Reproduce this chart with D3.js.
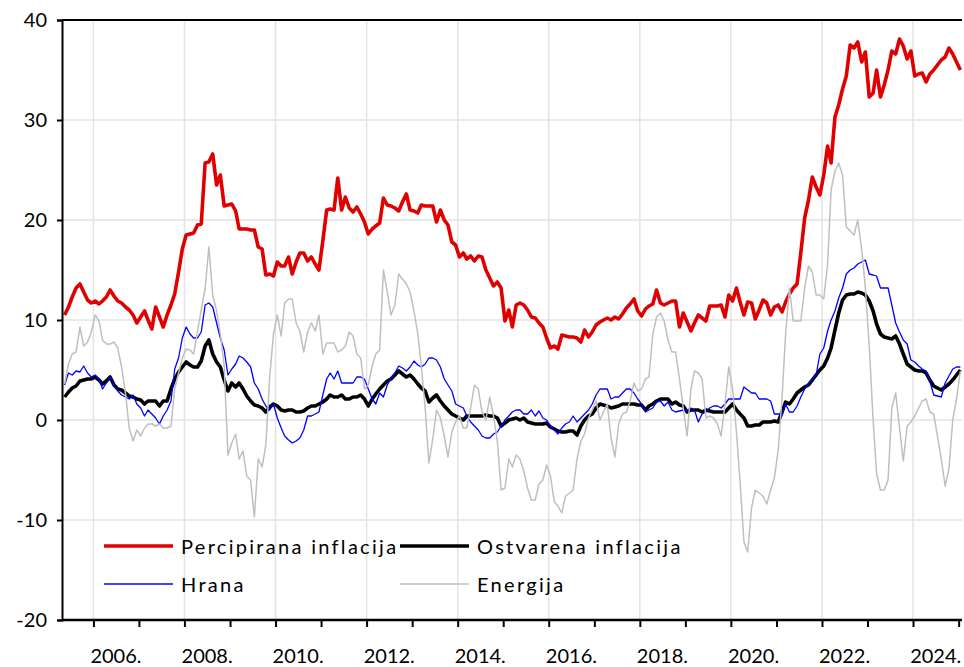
<!DOCTYPE html>
<html>
<head>
<meta charset="utf-8">
<script src="https://cdn.jsdelivr.net/npm/d3@7"></script>
<style>
  body { margin: 0; background: #fff; }
  svg { display: block; }
  text { font-family: Lato, "Open Sans", "DejaVu Sans", sans-serif; fill: #000; }
</style>
</head>
<body>
<svg id="chart" width="964" height="667"></svg>
<script>
// Monthly series, May 2005 – January 2025 (one value per month)
const firstYear = 2005;
const firstMonth = 5; // May

// Percipirana inflacija
const perceived = [
  10.5, 11.3, 12.3, 13.2, 13.6, 12.8, 12.0, 11.7,                   // 2005
  11.9, 11.6, 11.9, 12.3, 13.0, 12.4, 11.9, 11.7, 11.3, 11.0, 10.5, 9.7, // 2006
  10.3, 10.9, 10.0, 9.1, 11.3, 10.3, 9.3, 10.5, 11.5, 12.6, 14.8, 17.1,  // 2007
  18.5, 18.6, 18.7, 19.5, 19.6, 25.7, 25.8, 26.6, 23.5, 24.5, 21.4, 21.5, // 2008
  21.6, 20.9, 19.1, 19.1, 19.1, 19.0, 19.0, 17.3, 17.1, 14.5, 14.6, 14.4, // 2009
  15.8, 15.4, 15.4, 16.3, 14.6, 15.8, 16.7, 16.7, 15.9, 16.3, 15.6, 15.0, // 2010
  17.9, 21.0, 21.1, 21.0, 24.2, 21.0, 22.3, 21.2, 20.8, 21.3, 20.6, 19.8, // 2011
  18.6, 19.1, 19.4, 19.7, 22.2, 21.5, 21.4, 21.2, 20.9, 21.8, 22.6, 21.0, // 2012
  20.9, 20.7, 21.5, 21.4, 21.4, 21.4, 19.8, 21.0, 20.0, 19.5, 17.8, 17.5, // 2013
  16.3, 16.7, 16.1, 16.4, 15.9, 16.4, 16.3, 15.0, 14.2, 13.4, 13.8, 13.2, // 2014
  9.9, 11.0, 9.3, 11.5, 11.7, 11.5, 11.0, 10.3, 10.2, 9.7, 9.3, 8.2,     // 2015
  7.2, 7.4, 7.1, 8.5, 8.4, 8.3, 8.3, 8.2, 7.8, 9.0, 8.3, 8.8,            // 2016
  9.5, 9.8, 10.0, 10.2, 10.0, 10.3, 10.1, 10.6, 11.2, 11.6, 12.1, 10.9,  // 2017
  10.4, 11.1, 11.4, 11.6, 13.0, 11.7, 11.5, 11.7, 11.9, 11.9, 9.3, 10.7, // 2018
  9.8, 8.9, 9.7, 10.5, 10.2, 9.9, 11.4, 11.4, 11.4, 11.5, 10.3, 12.5,    // 2019
  11.9, 13.2, 11.8, 10.5, 11.8, 11.7, 10.1, 11.0, 12.0, 11.7, 10.5, 11.3, // 2020
  11.5, 10.8, 11.8, 12.6, 13.2, 13.6, 16.7, 20.2, 22.0, 24.3, 23.3, 22.5, // 2021
  24.5, 27.4, 25.7, 30.3, 31.5, 33.1, 34.4, 37.5, 37.2, 37.8, 35.8, 36.8, // 2022
  32.3, 32.7, 35.0, 32.3, 33.5, 35.0, 36.9, 36.6, 38.1, 37.4, 36.1, 36.9, // 2023
  34.4, 34.6, 34.7, 33.8, 34.6, 35.0, 35.5, 36.0, 36.3, 37.2, 36.6, 35.8, // 2024
  35.0                                                                  // 2025
];

// Ostvarena inflacija
const actual = [
  2.3, 2.8, 3.2, 3.4, 3.9, 4.0, 4.1, 4.1,                              // 2005
  4.3, 4.0, 3.6, 3.9, 4.3, 3.5, 3.1, 3.0, 2.7, 2.4, 2.3, 2.1,          // 2006
  2.0, 1.6, 1.9, 1.9, 1.9, 1.4, 1.9, 1.9, 3.1, 4.1, 4.8, 5.3,          // 2007
  5.8, 5.5, 5.3, 5.3, 5.9, 7.4, 8.0, 6.6, 5.8, 5.3, 4.0, 2.9,          // 2008
  3.7, 3.3, 3.7, 3.1, 2.4, 1.9, 1.5, 1.4, 1.2, 0.8, 1.3, 1.6,          // 2009
  1.4, 1.0, 0.9, 1.0, 1.0, 0.8, 0.8, 0.9, 1.2, 1.4, 1.4, 1.6,          // 2010
  1.8, 2.1, 2.5, 2.3, 2.3, 2.5, 2.1, 2.1, 2.3, 2.3, 2.5, 2.1,          // 2011
  1.4, 2.1, 2.6, 3.1, 3.5, 3.9, 4.1, 4.5, 4.9, 4.6, 4.3, 4.5,          // 2012
  4.1, 3.6, 3.2, 2.9, 1.8, 2.2, 2.5, 1.9, 1.4, 1.0, 0.6, 0.4,          // 2013
  0.2, 0.0, 0.4, 0.4, 0.4, 0.4, 0.4, 0.5, 0.4, 0.4, 0.2, -0.6,         // 2014
  -0.3, 0.0, 0.1, 0.2, 0.0, 0.2, -0.2, -0.3, -0.4, -0.4, -0.4, -0.3,   // 2015
  -0.7, -0.9, -1.1, -1.2, -1.2, -1.1, -1.1, -1.5, -0.6, 0.0, 0.4, 0.6, // 2016
  1.2, 1.6, 1.5, 1.4, 1.2, 1.3, 1.4, 1.6, 1.6, 1.6, 1.6, 1.5,          // 2017
  1.5, 1.0, 1.4, 1.6, 1.9, 2.1, 2.1, 2.1, 1.6, 1.8, 1.5, 1.4,          // 2018
  0.8, 1.0, 1.0, 1.0, 0.8, 1.0, 0.9, 0.8, 0.8, 0.8, 0.8, 1.2,          // 2019
  1.6, 1.0, 0.6, 0.2, -0.6, -0.6, -0.5, -0.5, -0.2, -0.2, -0.2, -0.1,  // 2020
  -0.2, 0.8, 1.8, 1.6, 2.1, 2.7, 3.0, 3.3, 3.5, 4.0, 4.5, 5.0,         // 2021
  5.4, 6.2, 7.2, 9.0, 10.7, 12.0, 12.5, 12.6, 12.6, 12.8, 12.7, 12.5,  // 2022
  11.9, 10.9, 9.6, 8.6, 8.3, 8.2, 8.1, 8.4, 7.6, 6.6, 5.6, 5.3,        // 2023
  5.0, 4.9, 4.9, 4.7, 4.0, 3.4, 3.2, 3.0, 3.3, 3.6, 4.0, 4.5,          // 2024
  5.0                                                                  // 2025
];

// Hrana
const food = [
  3.5, 4.7, 4.5, 4.9, 4.8, 5.4, 4.7, 4.3,                              // 2005
  4.5, 4.1, 3.1, 3.7, 4.3, 3.5, 2.9, 2.5, 2.3, 2.1, 2.5, 1.6,          // 2006
  1.2, 0.4, 1.0, 0.6, 0.2, -0.4, 0.4, 1.0, 1.9, 5.1, 6.2, 8.2,         // 2007
  9.3, 8.6, 8.2, 8.2, 8.8, 11.5, 11.7, 11.3, 9.7, 8.2, 7.0, 4.5,       // 2008
  5.1, 5.6, 6.4, 6.2, 5.8, 5.3, 3.7, 3.1, 2.1, 1.4, 1.0, 1.6,          // 2009
  0.2, -0.8, -1.6, -2.0, -2.3, -2.1, -1.8, -1.0, 0.4, 0.4, 0.6, 0.8,   // 2010
  2.5, 4.1, 4.7, 4.1, 4.9, 3.7, 3.7, 3.7, 3.7, 4.3, 4.3, 4.1,          // 2011
  3.1, 2.1, 1.6, 2.7, 2.3, 3.5, 4.2, 4.7, 5.4, 5.2, 4.9, 5.3,          // 2012
  5.9, 5.5, 5.3, 5.6, 6.2, 6.2, 6.0, 5.3, 4.1, 3.5, 2.9, 1.6,          // 2013
  1.4, 1.2, 0.4, -0.2, -0.6, -1.0, -1.6, -1.8, -1.8, -1.4, -1.2, -0.6, // 2014
  0.0, 0.4, 0.8, 1.0, 1.0, 0.6, 0.6, 1.0, 0.4, 0.9, 0.2, 0.0,          // 2015
  -0.6, -1.0, -1.4, -0.8, -0.4, -0.2, 0.4, -0.2, 0.2, 0.6, 1.0, 1.6,   // 2016
  2.5, 3.1, 3.1, 3.1, 2.1, 2.3, 2.3, 2.7, 3.1, 3.1, 2.7, 2.1,          // 2017
  1.6, 0.8, 1.0, 1.2, 1.8, 1.9, 1.4, 1.8, 1.0, 0.8, 0.9, 1.0,          // 2018
  1.0, 1.2, 1.0, -0.2, 0.6, 0.8, 1.2, 1.4, 1.4, 1.2, 1.6, 2.1,         // 2019
  2.1, 2.1, 2.1, 3.3, 3.0, 2.7, 2.7, 2.1, 2.1, 2.1, 1.9, 0.6,          // 2020
  0.6, 0.6, 1.6, 0.8, 0.8, 1.4, 2.3, 3.1, 3.7, 4.1, 4.5, 6.6,          // 2021
  7.2, 8.9, 10.0, 10.9, 12.2, 13.2, 14.6, 15.0, 15.2, 15.6, 15.8, 16.0, // 2022
  14.6, 14.5, 14.4, 13.2, 13.2, 13.2, 11.5, 9.7, 8.8, 8.0, 7.6, 6.0,   // 2023
  5.8, 5.4, 5.1, 4.9, 3.9, 2.5, 2.4, 2.3, 3.7, 4.4, 5.1, 5.3,          // 2024
  5.3                                                                  // 2025
];

// Energija
const energy = [
  3.6, 5.6, 6.6, 6.8, 9.3, 7.4, 7.8, 8.8,                              // 2005
  10.5, 9.9, 8.0, 7.6, 7.6, 7.8, 7.2, 5.3, 2.7, -0.8, -2.1, -1.0,      // 2006
  -1.6, -0.8, -0.4, -0.4, -0.6, -0.4, -0.8, -0.8, -0.6, 3.1, 4.7, 6.2, // 2007
  7.1, 7.0, 6.6, 8.9, 11.0, 13.2, 17.3, 12.5, 10.9, 8.6, 5.4, -3.5,    // 2008
  -2.3, -1.4, -3.9, -3.1, -5.6, -6.0, -9.7, -3.9, -4.7, -2.5, 4.3, 8.6, // 2009
  10.5, 8.4, 11.7, 12.1, 12.1, 9.7, 8.9, 6.8, 8.8, 9.7, 8.9, 10.5,     // 2010
  6.6, 7.7, 7.7, 7.7, 6.8, 7.0, 7.4, 8.8, 8.4, 6.6, 6.2, 3.1,          // 2011
  3.5, 5.4, 6.6, 7.0, 15.0, 12.8, 10.5, 11.5, 14.6, 14.1, 13.6, 12.8,  // 2012
  10.9, 8.6, 5.4, 1.2, -4.3, -1.9, 1.0, 0.2, -1.6, -3.7, -1.2, -0.2,   // 2013
  0.4, -0.8, -0.8, 1.2, 3.5, 3.1, 0.8, 0.0, 2.3, 0.4, -2.1, -7.0,      // 2014
  -6.8, -3.9, -4.7, -3.5, -3.9, -5.1, -6.8, -8.0, -8.0, -6.4, -6.0, -4.5, // 2015
  -5.6, -8.2, -8.6, -9.3, -7.6, -7.3, -7.0, -3.9, -2.1, -1.4, 0.2, 1.0, // 2016
  1.9, 0.0, 0.8, 1.6, -1.8, -3.7, -0.4, 0.6, 0.8, 1.9, 3.7, 2.9,       // 2017
  3.1, 4.1, 4.3, 8.6, 10.3, 10.7, 9.9, 8.0, 6.8, 6.8, 4.1, 1.2,        // 2018
  -1.6, 3.1, 4.9, 4.7, 4.1, 0.2, 0.4, 0.2, -0.4, -1.6, 1.6, 5.3,       // 2019
  3.1, -1.2, -6.2, -12.2, -13.2, -8.8, -7.0, -7.3, -7.6, -8.4, -7.0, -5.8, // 2020
  -3.0, 2.3, 8.6, 13.2, 9.9, 9.9, 9.9, 13.2, 15.4, 14.8, 12.5, 12.5,   // 2021
  12.1, 15.6, 23.0, 24.9, 25.7, 24.5, 19.3, 18.9, 18.5, 20.0, 17.1, 13.2, // 2022
  7.4, 0.0, -5.4, -7.0, -7.0, -6.0, 1.2, 2.7, -0.8, -4.1, -0.6, -0.2,  // 2023
  0.4, 1.2, 1.9, 2.1, 0.8, 0.6, -1.6, -3.9, -6.6, -4.9, 0.0, 2.1,      // 2024
  4.9                                                                  // 2025
];

const yTicks = [-20, -10, 0, 10, 20, 30, 40];
const labelYears = [2006, 2008, 2010, 2012, 2014, 2016, 2018, 2020, 2022, 2024];
const tickYears = d3.range(2006, 2026);

const seriesNames = ["Percipirana inflacija", "Ostvarena inflacija", "Hrana", "Energija"];
const seriesColors = ["#e00000", "#000000", "#0000ff", "#bfbfbf"];
const seriesWidths = [3.6, 3.6, 1.3, 1.5];
const seriesValues = [perceived, actual, food, energy];

// month dates (plotted mid-month)
const months = perceived.map((_, i) => new Date(firstYear, firstMonth - 1 + i, 15));

const svg = d3.select("#chart");
const plotL = 62, plotR = 962, plotT = 20, plotB = 620;

const x = d3.scaleTime()
  .domain([new Date(2005, 3, 24), new Date(2025, 0, 28)])
  .range([plotL, plotR]);
const y = d3.scaleLinear().domain([-20, 40]).range([plotB, plotT]);

// grid
const grid = svg.append("g");
grid.selectAll("line.h").data(yTicks.filter(v => v > -20 && v < 40)).join("line")
  .attr("x1", plotL).attr("x2", plotR)
  .attr("y1", d => y(d)).attr("y2", d => y(d))
  .attr("stroke", "#e3e3e3").attr("stroke-width", 1.5);
grid.selectAll("line.v").data(labelYears).join("line")
  .attr("x1", d => x(new Date(d, 0, 1))).attr("x2", d => x(new Date(d, 0, 1)))
  .attr("y1", plotT).attr("y2", plotB)
  .attr("stroke", "#e3e3e3").attr("stroke-width", 1.5);

// series (drawn in series order, later ones on top)
const line = d3.line().x((d, i) => x(months[i])).y(d => y(d));
seriesValues.forEach((vals, k) => {
  svg.append("path")
    .datum(vals)
    .attr("d", line)
    .attr("fill", "none")
    .attr("stroke", seriesColors[k])
    .attr("stroke-width", seriesWidths[k])
    .attr("stroke-linejoin", "round")
    .attr("stroke-linecap", "butt");
});

// axes
const yAxis = d3.axisLeft(y).tickValues(yTicks).tickSize(5).tickPadding(10)
  .tickFormat(d => String(d));
const gy = svg.append("g").attr("transform", `translate(${plotL},0)`).call(yAxis);
gy.select(".domain").attr("stroke", "#000").attr("stroke-width", 2);
gy.selectAll(".tick line").attr("stroke", "#000").attr("stroke-width", 2);
gy.selectAll(".tick text").attr("font-size", 20).attr("font-family", "Lato, sans-serif").attr("dy", "0.34em");

const xAxis = d3.axisBottom(x)
  .tickValues(tickYears.map(yv => new Date(yv, 0, 1)))
  .tickSize(7).tickFormat("");
const gx = svg.append("g").attr("transform", `translate(0,${plotB})`).call(xAxis);
gx.select(".domain").attr("stroke", "#000").attr("stroke-width", 2.5).attr("d", `M${plotL},0H${plotR}`);
gx.selectAll(".tick line").attr("stroke", "#000").attr("stroke-width", 2);

// year labels centred in the middle of each labelled year
svg.append("g").selectAll("text").data(labelYears).join("text")
  .attr("x", d => x(new Date(d, 6, 1)))
  .attr("y", 663)
  .attr("text-anchor", "middle")
  .attr("font-size", 20)
  .text(d => d + ".");

// top frame line
svg.append("line")
  .attr("x1", plotL).attr("x2", plotR).attr("y1", plotT).attr("y2", plotT)
  .attr("stroke", "#000").attr("stroke-width", 2);

// legend
const legendItems = [
  { name: seriesNames[0], color: seriesColors[0], w: seriesWidths[0], lx: 104, ly: 546 },
  { name: seriesNames[1], color: seriesColors[1], w: seriesWidths[1], lx: 400, ly: 546 },
  { name: seriesNames[2], color: seriesColors[2], w: seriesWidths[2], lx: 104, ly: 584 },
  { name: seriesNames[3], color: seriesColors[3], w: seriesWidths[3], lx: 400, ly: 584 }
];
const lg = svg.append("g");
legendItems.forEach(it => {
  lg.append("line")
    .attr("x1", it.lx).attr("x2", it.lx + 69)
    .attr("y1", it.ly).attr("y2", it.ly)
    .attr("stroke", it.color).attr("stroke-width", it.w);
  lg.append("text")
    .attr("x", it.lx + 77).attr("y", it.ly + 8)
    .attr("font-size", 20)
    .attr("letter-spacing", "2.3px")
    .text(it.name);
});
</script>
</body>
</html>
